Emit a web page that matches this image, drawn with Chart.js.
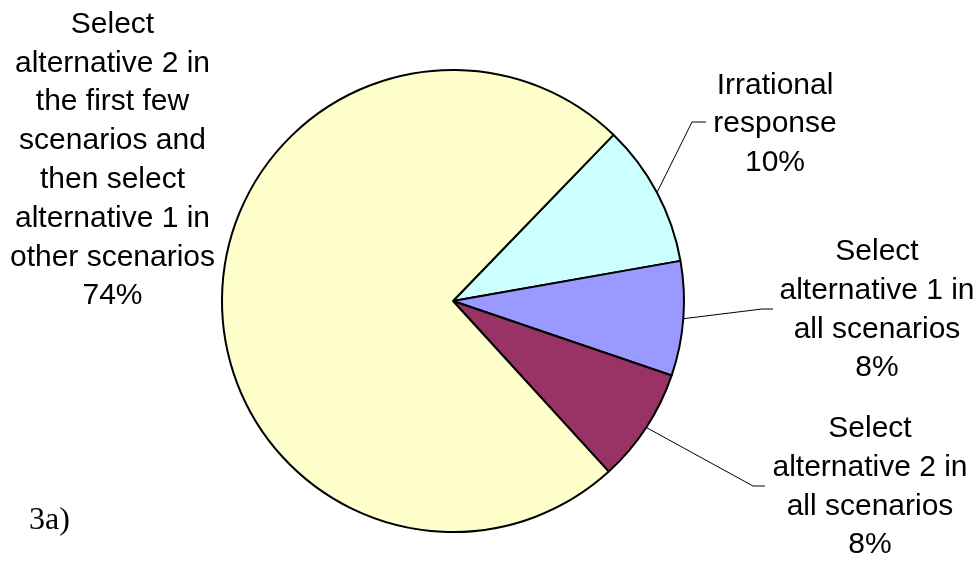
<!DOCTYPE html>
<html>
<head>
<meta charset="utf-8">
<script src="https://cdn.jsdelivr.net/npm/chart.js@4.4.0/dist/chart.umd.min.js"></script>
<style>
  html, body { margin: 0; padding: 0; background: #ffffff; }
  #wrap { width: 980px; height: 561px; position: relative; }
</style>
</head>
<body>
<div id="wrap"><canvas id="c" width="980" height="561"></canvas></div>
<script>
const categories = [
  "Irrational response",
  "Select alternative 1 in all scenarios",
  "Select alternative 2 in all scenarios",
  "Select alternative 2 in the first few scenarios and then select alternative 1 in other scenarios"
];
const values = [10, 8, 8, 74];
const labelLines = [
  ["Irrational", "response"],
  ["Select", "alternative 1 in", "all scenarios"],
  ["Select", "alternative 2 in", "all scenarios"],
  ["Select", "alternative 2 in", "the first few", "scenarios and", "then select", "alternative 1 in", "other scenarios"]
];
const colors = ["#CCFFFF", "#9999FF", "#993366", "#FFFFCC"];
const panelTag = "3a)";

// label layout (positions/styles only)
const labelLayout = [
  { cx: 775, y0: 93.5, elbow: [692, 122], end: [706, 122] },
  { cx: 877, y0: 260, elbow: [762, 309], end: [773, 309] },
  { cx: 870, y0: 437, elbow: [753, 486], end: [765, 486] },
  { cx: 112.5, y0: 32.7, elbow: null, end: null }
];
const LINE_H = 38.8;

const labelPlugin = {
  id: 'pieLabels',
  afterDatasetsDraw(chart) {
    const ctx = chart.ctx;
    const meta = chart.getDatasetMeta(0);
    ctx.save();
    // leader lines
    meta.data.forEach((arc, i) => {
      const L = labelLayout[i];
      if (!L.elbow) return;
      const p = arc.getProps(['x', 'y', 'startAngle', 'endAngle', 'outerRadius'], true);
      const mid = (p.startAngle + p.endAngle) / 2;
      const sx = p.x + Math.cos(mid) * p.outerRadius;
      const sy = p.y + Math.sin(mid) * p.outerRadius;
      ctx.beginPath();
      ctx.strokeStyle = '#000000';
      ctx.lineWidth = 1;
      ctx.moveTo(sx, sy);
      ctx.lineTo(L.elbow[0], L.elbow[1]);
      ctx.lineTo(L.end[0], L.end[1]);
      ctx.stroke();
    });
    // texts
    ctx.fillStyle = '#000000';
    ctx.font = '30px "Liberation Sans", Arial, sans-serif';
    ctx.textAlign = 'center';
    ctx.textBaseline = 'alphabetic';
    const total = values.reduce((a, b) => a + b, 0);
    labelLines.forEach((lines, i) => {
      const L = labelLayout[i];
      const all = lines.concat([Math.round(values[i] / total * 100) + '%']);
      all.forEach((t, k) => {
        ctx.fillText(t, L.cx, L.y0 + k * LINE_H);
      });
    });
    // panel tag
    ctx.font = '32px "Liberation Serif", "Times New Roman", serif';
    ctx.textAlign = 'left';
    ctx.fillText(panelTag, 29, 529);
    ctx.restore();
  }
};

new Chart(document.getElementById('c'), {
  type: 'pie',
  data: {
    labels: categories,
    datasets: [{
      data: values,
      backgroundColor: colors,
      borderColor: '#000000',
      borderWidth: 2,
      hoverOffset: 0
    }]
  },
  options: {
    responsive: false,
    animation: false,
    rotation: 44,
    radius: 231,
    layout: { padding: { left: 220, right: 294, top: 70, bottom: 29 } },
    plugins: {
      legend: { display: false },
      tooltip: { enabled: false },
      title: { display: false }
    }
  },
  plugins: [labelPlugin]
});
</script>
</body>
</html>
